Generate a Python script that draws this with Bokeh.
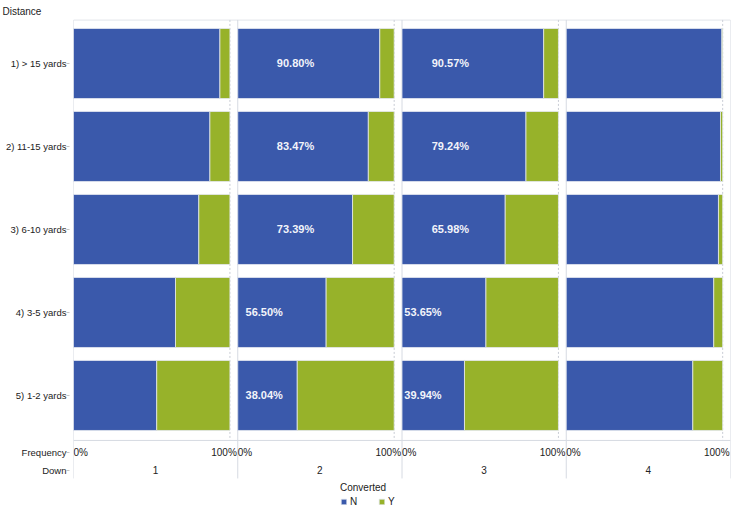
from bokeh.plotting import figure
from bokeh.models import ColumnDataSource, Range1d, FixedTicker, Legend, LegendItem
from bokeh.core.properties import value
from bokeh.embed import file_html
from bokeh.resources import INLINE

# data (percent of N per distance, one list per down)
distances = ["1) > 15 yards", "2) 11-15 yards", "3) 6-10 yards", "4) 3-5 yards", "5) 1-2 yards"]
downs = ["1", "2", "3", "4"]
n_down1 = [93.6, 87.2, 80.1, 65.2, 53.2]
n_down2 = [90.80, 83.47, 73.39, 56.50, 38.04]
n_down3 = [90.57, 79.24, 65.98, 53.65, 39.94]
n_down4 = [99.5, 98.6, 97.3, 94.3, 80.9]
labelled_downs = ["2", "3"]
x_tick_labels = ["0%", "100%"]

BLUE = "#3A59AB"
GREEN = "#97B22A"
FONT = "Liberation Sans"
TEXT = "#222222"
PANEL = 100
STEP = 105  # panel width + gap

n_by_down = [n_down1, n_down2, n_down3, n_down4]

rows, base, mid, top = [], [], [], []
for k, series in enumerate(n_by_down):
    for i, v in enumerate(series):
        rows.append(i + 1)
        base.append(k * STEP)
        mid.append(k * STEP + v * PANEL / 100)
        top.append(k * STEP + PANEL)
src = ColumnDataSource(dict(y=rows, left=base, mid=mid, right=top))

p = figure(width=740, height=510, output_backend="svg", toolbar_location=None,
           x_range=Range1d(0, 4 * STEP), y_range=Range1d(6.386, 0.47),
           x_axis_location=None, min_border_left=73, min_border_right=10,
           min_border_top=19, min_border_bottom=0)
p.outline_line_color = None
p.grid.visible = False

p.title.text = "Distance"
p.title.align = "left"
p.title.offset = -71
p.title.standoff = 6
p.title.text_font = FONT
p.title.text_font_size = "10px"
p.title.text_font_style = "normal"
p.title.text_color = TEXT

# frame lines
sep_x = [k * STEP for k in range(5)]
p.segment(x0=sep_x, y0=[0.475] * 5, x1=sep_x, y1=[6.0] * 5, line_color="#D6DAE2", line_width=1)
end_x = [k * STEP + PANEL for k in range(4)]
p.segment(x0=end_x, y0=[0.475] * 4, x1=end_x, y1=[5.542] * 4, line_color="#C8CCD4",
          line_width=1, line_dash="2 2")
p.segment(x0=[0, 0], y0=[0.475, 5.542], x1=[4 * STEP, 4 * STEP], y1=[0.475, 5.542],
          line_color="#D6DAE2", line_width=1)

bar_h = 70 / 83
rn = p.hbar(y="y", left="left", right="mid", height=bar_h, source=src,
            fill_color=BLUE, line_color="#E4E8F0", line_width=0.8)
ry = p.hbar(y="y", left="mid", right="right", height=bar_h, source=src,
            fill_color=GREEN, line_color="#E4E8F0", line_width=0.8)

# labels inside bars for downs 2 and 3
pad_big = {"2": 25, "3": 19}
pad_small = {"2": 5, "3": 1.5}
lx, ly, lt = [], [], []
for k, d in enumerate(downs):
    if d not in labelled_downs:
        continue
    for i, v in enumerate(n_by_down[k]):
        lx.append(k * STEP + (pad_big[d] if v > 60 else pad_small[d]))
        ly.append(i + 1)
        lt.append(f"{v:.2f}%")
p.text(x=lx, y=ly, text=lt, text_font=value(FONT), text_font_size="11px",
       text_font_style="bold", text_color="#F2F4FA", text_align="left",
       text_baseline="middle")

# bottom axis rows (Frequency / Down)
fy = 5.687
dy = 5.904
p.text(x=[k * STEP + 4.6 for k in range(4)], y=[fy] * 4, text=[x_tick_labels[0]] * 4,
       text_font=value(FONT), text_font_size="10px", text_color=TEXT,
       text_align="center", text_baseline="middle")
p.text(x=[k * STEP + 96.2 for k in range(4)], y=[fy] * 4, text=[x_tick_labels[1]] * 4,
       text_font=value(FONT), text_font_size="10px", text_color=TEXT,
       text_align="center", text_baseline="middle")
p.text(x=[k * STEP + STEP / 2 for k in range(4)], y=[dy] * 4, text=downs,
       text_font=value(FONT), text_font_size="10px", text_color=TEXT,
       text_align="center", text_baseline="middle")

ax = p.yaxis[0]
ax.ticker = FixedTicker(ticks=[1, 2, 3, 4, 5, fy, dy])
overrides = {i + 1: d for i, d in enumerate(distances)}
overrides[fy] = "Frequency"
overrides[dy] = "Down"
ax.major_label_overrides = overrides
ax.axis_line_color = None
ax.major_tick_in = -4
ax.major_tick_out = 7
ax.major_tick_line_color = "#C4C4C4"
ax.minor_tick_line_color = None
ax.major_label_standoff = 0
ax.major_label_text_font = FONT
ax.major_label_text_font_size = "9.5px"
ax.major_label_text_color = TEXT

legend = Legend(items=[LegendItem(label="N", renderers=[rn]), LegendItem(label="Y", renderers=[ry])],
                title="Converted", orientation="horizontal", location=(267, 3),
                padding=0, margin=0, spacing=8, label_standoff=3,
                glyph_width=7, glyph_height=7, label_height=8, title_standoff=3,
                background_fill_alpha=0, border_line_color=None,
                label_text_font=FONT, label_text_font_size="10px", label_text_color=TEXT,
                title_text_font=FONT, title_text_font_size="10px", title_text_font_style="normal",
                title_text_color=TEXT)
p.add_layout(legend)

open("out.html", "w").write(file_html(p, INLINE))
